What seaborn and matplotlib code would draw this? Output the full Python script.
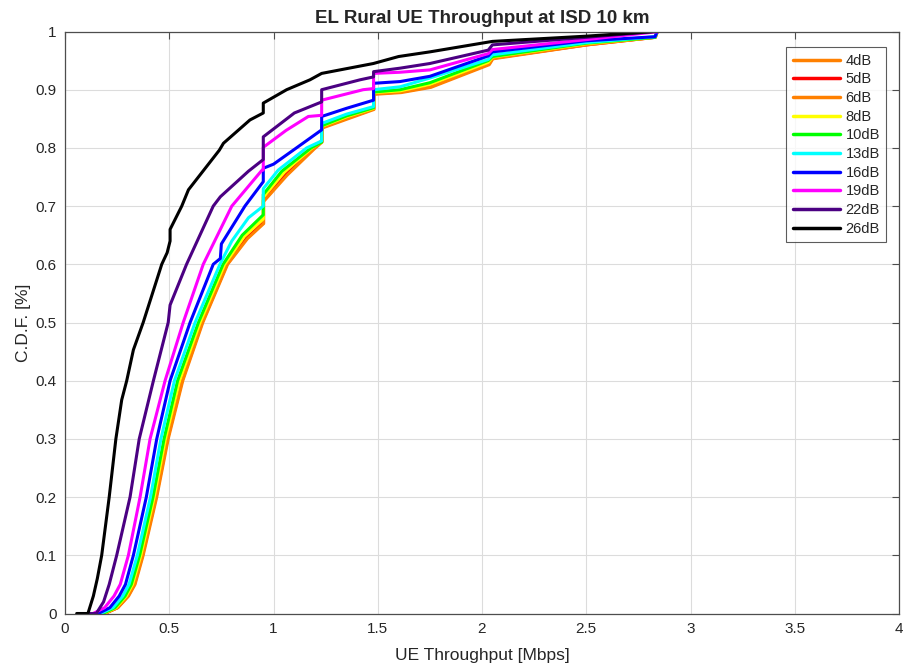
import matplotlib
matplotlib.use("Agg")
import matplotlib.pyplot as plt
import pandas as pd
import seaborn as sns

# ---------------- data ----------------
labels = ["4dB", "5dB", "6dB", "8dB", "10dB", "13dB", "16dB", "19dB", "22dB", "26dB"]
colors = ["#FF8000", "#FF0000", "#FF8000", "#FFFF00", "#00FF00",
          "#00FFFF", "#0000FF", "#FF00FF", "#4B0082", "#000000"]

x_4dB = [0.19, 0.25, 0.30, 0.33, 0.370, 0.435, 0.490, 0.560, 0.656, 0.775, 0.870, 0.951, 0.951, 1.060, 1.190, 1.231, 1.231, 1.360, 1.480, 1.480, 1.607, 1.750, 2.030, 2.050, 2.500, 2.830, 2.840]
y_4dB = [0.00, 0.01, 0.03, 0.05, 0.10, 0.20, 0.30, 0.40, 0.50, 0.60, 0.645, 0.672, 0.710, 0.755, 0.800, 0.812, 0.836, 0.853, 0.868, 0.894, 0.897, 0.906, 0.945, 0.955, 0.978, 0.990, 1.000]

x_5dB = [0.19, 0.252, 0.302, 0.333, 0.372, 0.437, 0.492, 0.562, 0.658, 0.777, 0.872, 0.952, 0.952, 1.062, 1.192, 1.232, 1.232, 1.362, 1.481, 1.481, 1.609, 1.752, 2.032, 2.051, 2.502, 2.831, 2.841]
y_5dB = [0.00, 0.01, 0.03, 0.05, 0.10, 0.20, 0.30, 0.40, 0.50, 0.60, 0.645, 0.671, 0.709, 0.754, 0.799, 0.811, 0.835, 0.852, 0.867, 0.893, 0.896, 0.905, 0.944, 0.954, 0.977, 0.990, 1.000]

x_6dB = [0.19, 0.254, 0.305, 0.336, 0.375, 0.440, 0.495, 0.565, 0.661, 0.780, 0.875, 0.953, 0.953, 1.065, 1.195, 1.233, 1.233, 1.365, 1.482, 1.482, 1.612, 1.755, 2.035, 2.052, 2.505, 2.832, 2.842]
y_6dB = [0.00, 0.01, 0.03, 0.05, 0.10, 0.20, 0.30, 0.40, 0.50, 0.60, 0.644, 0.670, 0.708, 0.753, 0.798, 0.810, 0.834, 0.851, 0.866, 0.892, 0.895, 0.904, 0.943, 0.953, 0.977, 0.990, 1.000]

x_8dB = [0.185, 0.245, 0.294, 0.324, 0.364, 0.428, 0.482, 0.550, 0.648, 0.766, 0.860, 0.951, 0.951, 1.050, 1.185, 1.231, 1.231, 1.355, 1.480, 1.480, 1.607, 1.750, 2.030, 2.050, 2.500, 2.830, 2.840]
y_8dB = [0.00, 0.01, 0.03, 0.05, 0.10, 0.20, 0.30, 0.40, 0.50, 0.60, 0.648, 0.678, 0.715, 0.758, 0.800, 0.811, 0.837, 0.854, 0.868, 0.895, 0.898, 0.909, 0.947, 0.956, 0.979, 0.990, 1.000]

x_10dB = [0.18, 0.24, 0.288, 0.318, 0.358, 0.422, 0.475, 0.540, 0.640, 0.758, 0.850, 0.951, 0.951, 1.040, 1.180, 1.231, 1.231, 1.350, 1.480, 1.480, 1.607, 1.750, 2.030, 2.050, 2.500, 2.830, 2.840]
y_10dB = [0.00, 0.01, 0.03, 0.05, 0.10, 0.20, 0.30, 0.40, 0.50, 0.60, 0.650, 0.685, 0.720, 0.760, 0.800, 0.810, 0.838, 0.855, 0.869, 0.896, 0.900, 0.912, 0.950, 0.957, 0.980, 0.990, 1.000]

x_13dB = [0.17, 0.23, 0.277, 0.307, 0.347, 0.410, 0.460, 0.525, 0.624, 0.743, 0.800, 0.880, 0.951, 0.951, 1.023, 1.159, 1.231, 1.231, 1.350, 1.480, 1.480, 1.607, 1.750, 2.030, 2.050, 2.500, 2.830, 2.840]
y_13dB = [0.00, 0.01, 0.03, 0.05, 0.10, 0.20, 0.30, 0.40, 0.50, 0.60, 0.640, 0.680, 0.700, 0.730, 0.762, 0.800, 0.812, 0.842, 0.858, 0.871, 0.900, 0.905, 0.920, 0.952, 0.960, 0.981, 0.991, 1.000]

x_16dB = [0.16, 0.215, 0.26, 0.29, 0.328, 0.390, 0.440, 0.504, 0.600, 0.711, 0.745, 0.750, 0.863, 0.951, 0.951, 1.000, 1.110, 1.231, 1.231, 1.350, 1.480, 1.480, 1.607, 1.750, 2.030, 2.050, 2.500, 2.830, 2.840]
y_16dB = [0.00, 0.01, 0.03, 0.05, 0.10, 0.20, 0.30, 0.40, 0.50, 0.60, 0.610, 0.635, 0.700, 0.742, 0.765, 0.772, 0.800, 0.831, 0.854, 0.868, 0.882, 0.911, 0.914, 0.923, 0.958, 0.965, 0.984, 0.991, 1.000]

x_19dB = [0.135, 0.19, 0.235, 0.265, 0.304, 0.360, 0.408, 0.480, 0.567, 0.663, 0.800, 0.943, 0.951, 0.951, 1.060, 1.167, 1.231, 1.231, 1.430, 1.480, 1.480, 1.607, 1.750, 2.030, 2.050, 2.500, 2.850]
y_19dB = [0.00, 0.01, 0.03, 0.05, 0.10, 0.20, 0.30, 0.40, 0.50, 0.60, 0.700, 0.761, 0.762, 0.801, 0.830, 0.854, 0.856, 0.882, 0.900, 0.902, 0.928, 0.930, 0.934, 0.962, 0.969, 0.986, 1.000]

x_22dB = [0.11, 0.15, 0.185, 0.212, 0.248, 0.312, 0.356, 0.424, 0.495, 0.504, 0.583, 0.711, 0.745, 0.880, 0.951, 0.951, 1.100, 1.231, 1.231, 1.415, 1.480, 1.480, 1.607, 1.750, 2.030, 2.050, 2.500, 2.830]
y_22dB = [0.00, 0.00, 0.02, 0.05, 0.10, 0.20, 0.30, 0.40, 0.50, 0.530, 0.60, 0.700, 0.716, 0.760, 0.780, 0.819, 0.860, 0.879, 0.900, 0.917, 0.922, 0.931, 0.937, 0.945, 0.968, 0.977, 0.990, 1.000]

x_26dB = [0.056, 0.110, 0.136, 0.155, 0.176, 0.212, 0.244, 0.272, 0.296, 0.328, 0.375, 0.464, 0.490, 0.504, 0.504, 0.560, 0.592, 0.740, 0.760, 0.887, 0.951, 0.951, 1.063, 1.175, 1.231, 1.479, 1.600, 1.750, 2.050, 2.500, 2.830]
y_26dB = [0.00, 0.00, 0.03, 0.06, 0.10, 0.20, 0.30, 0.367, 0.40, 0.453, 0.50, 0.60, 0.620, 0.640, 0.660, 0.700, 0.728, 0.796, 0.808, 0.848, 0.860, 0.877, 0.900, 0.917, 0.928, 0.945, 0.957, 0.965, 0.983, 0.992, 1.000]

series_x = [x_4dB, x_5dB, x_6dB, x_8dB, x_10dB, x_13dB, x_16dB, x_19dB, x_22dB, x_26dB]
series_y = [y_4dB, y_5dB, y_6dB, y_8dB, y_10dB, y_13dB, y_16dB, y_19dB, y_22dB, y_26dB]

x_ticks = [0, 0.5, 1, 1.5, 2, 2.5, 3, 3.5, 4]
y_ticks = [0, 0.1, 0.2, 0.3, 0.4, 0.5, 0.6, 0.7, 0.8, 0.9, 1]

rows = []
for lab, xs, ys in zip(labels, series_x, series_y):
    for i, (xv, yv) in enumerate(zip(xs, ys)):
        rows.append({"snr": lab, "x": xv, "y": yv, "i": i})
df = pd.DataFrame(rows)

# ---------------- figure ----------------
sns.set_style("white")
plt.rcParams["font.family"] = ["Liberation Sans", "DejaVu Sans"]

fig = plt.figure(figsize=(9.09, 6.70), dpi=100)
ax = fig.add_axes([65 / 909, 1 - 613.5 / 670, (899 - 65) / 909, (613.5 - 31.5) / 670])

sns.lineplot(data=df, x="x", y="y", hue="snr", hue_order=labels, palette=colors,
             sort=False, estimator=None, linewidth=2.2, ax=ax, legend=True)

ax.set_xlim(0, 4)
ax.set_ylim(0, 1)
ax.set_xticks(x_ticks)
ax.set_yticks(y_ticks)
ax.set_xticklabels([f"{v:g}" for v in x_ticks])
ax.set_yticklabels([f"{v:g}" for v in y_ticks])
ax.grid(True, color="#dcdcdc", linewidth=0.8)
ax.set_axisbelow(True)
for s in ax.spines.values():
    s.set_color("#4d4d4d")
    s.set_linewidth(0.9)
    s.set_visible(True)
ax.tick_params(direction="in", length=5, width=0.8, color="#4d4d4d",
               labelsize=11, labelcolor="#262626", top=True, right=True,
               labeltop=False, labelright=False, pad=6)

ax.set_xlabel("UE Throughput [Mbps]", fontsize=12.5, color="#262626", labelpad=9)
ax.set_ylabel("C.D.F. [%]", fontsize=12.5, color="#262626", labelpad=3)
ax.set_title("EL Rural UE Throughput at ISD 10 km", fontsize=13.5,
             fontweight="bold", pad=6)

handles, labs = ax.get_legend_handles_labels()
leg = ax.legend(handles, labs, loc="upper right", bbox_to_anchor=(0.985, 0.973),
                borderaxespad=0.0,
                frameon=True, fancybox=False, edgecolor="#333333",
                fontsize=10.5, handlelength=3.2, labelspacing=0.32,
                borderpad=0.45, handletextpad=0.4)
leg.get_frame().set_linewidth(0.8)
for ln in leg.get_lines():
    ln.set_linewidth(2.5)

fig.savefig("out.png", dpi=100)
